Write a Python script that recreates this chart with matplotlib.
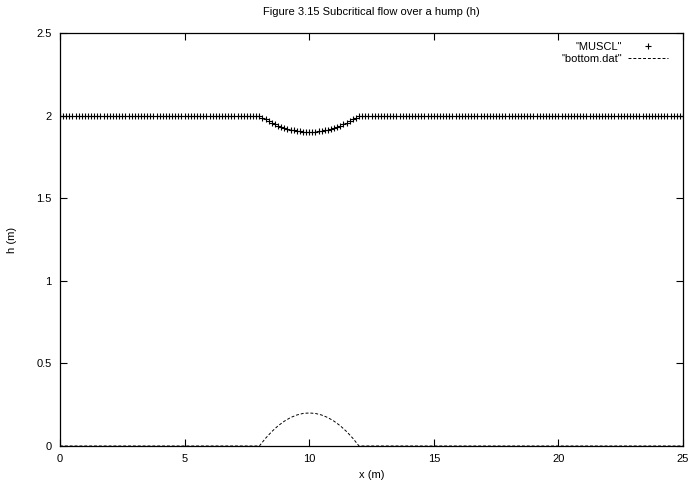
import numpy as np
import matplotlib
matplotlib.use("Agg")
import matplotlib.pyplot as plt

plt.rcParams['font.family'] = ['Liberation Sans', 'DejaVu Sans']

# MUSCL solution: x grid at 0.125 spacing, h flat at 2.0 outside the hump
x_left = np.arange(0.0, 8.0, 0.125)
h_left = [2.0] * len(x_left)
x_hump = np.arange(8.0, 12.0 + 0.0625, 0.125)
h_hump = [2.000, 1.988, 1.977, 1.966, 1.956, 1.947, 1.939, 1.932, 1.925,
          1.919, 1.914, 1.910, 1.906, 1.904, 1.902, 1.900, 1.900,
          1.900, 1.902, 1.904, 1.906, 1.910, 1.914, 1.919, 1.925,
          1.932, 1.939, 1.947, 1.956, 1.966, 1.977, 1.988, 2.000]
x_right = np.arange(12.125, 25.0 + 0.0625, 0.125)
h_right = [2.0] * len(x_right)

muscl_x = np.concatenate([x_left, x_hump, x_right])
muscl_h = np.concatenate([h_left, h_hump, h_right])

# bottom.dat
bottom_x = [0, 8.0, 8.25, 8.5, 8.75, 9.0, 9.25, 9.5, 9.75, 10.0,
            10.25, 10.5, 10.75, 11.0, 11.25, 11.5, 11.75, 12.0, 25]
bottom_z = [0, 0.0, 0.047, 0.0875, 0.122, 0.15, 0.172, 0.1875, 0.197, 0.2,
            0.197, 0.1875, 0.172, 0.15, 0.122, 0.0875, 0.047, 0.0, 0]

xticks = [0, 5, 10, 15, 20, 25]
yticks = [0, 0.5, 1, 1.5, 2, 2.5]
ytick_labels = ["0", "0.5", "1", "1.5", "2", "2.5"]

fig = plt.figure(figsize=(6.91, 4.88), dpi=100)
ax = fig.add_axes([60 / 691, 42 / 488, 623 / 691, 413 / 488])

ax.plot(muscl_x, muscl_h, linestyle='none', marker='+', markersize=5,
        markeredgewidth=0.8, color='black', label='"MUSCL"')
ax.plot(bottom_x, bottom_z, linestyle=(0, (3, 2)), linewidth=0.7,
        color='black', label='"bottom.dat"')

ax.set_xlim(0, 25)
ax.set_ylim(0, 2.5)
ax.set_xticks(xticks)
ax.set_yticks(yticks)
ax.set_yticklabels(ytick_labels)
ax.tick_params(direction='in', length=5, width=0.8, top=True, right=True,
               labelsize=8, pad=6, colors='black')
for s in ax.spines.values():
    s.set_linewidth(0.9)

ax.set_xlabel("x (m)", fontsize=8, labelpad=4)
ax.set_ylabel("h (m)", fontsize=8, labelpad=14)
ax.set_title("Figure 3.15 Subcritical flow over a hump (h)", fontsize=8, pad=13)

ax.legend(loc='upper right', bbox_to_anchor=(0.983, 0.989), frameon=False,
          markerfirst=False, fontsize=8, handlelength=3.6, handletextpad=0.5,
          labelspacing=0.15, alignment='right', borderaxespad=0)

fig.savefig("out.png", dpi=100)
